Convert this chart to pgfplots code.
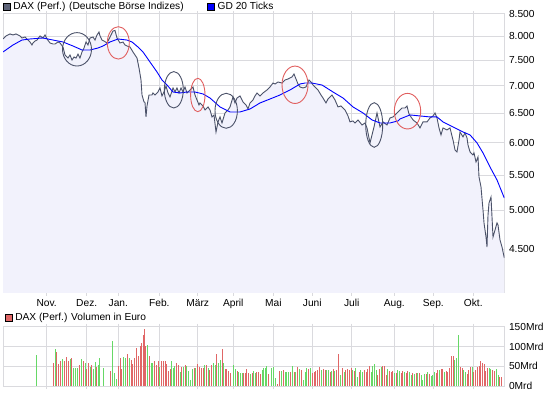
\documentclass[border=0pt]{standalone}
\usepackage{fontspec}
\setmainfont{Liberation Sans}
\usepackage{pgfplots}
\usepackage{pgfplotstable}
\pgfplotsset{compat=1.18}
\definecolor{slate}{RGB}{75,82,105}
\definecolor{fillc}{RGB}{242,242,252}
\definecolor{gridc}{RGB}{218,218,222}
\definecolor{ered}{RGB}{225,95,95}
\definecolor{vred}{RGB}{224,102,102}
\definecolor{vgreen}{RGB}{102,216,102}
\definecolor{gdblue}{RGB}{0,0,255}

\pgfplotstableread{
x y
3 7945
6 8010
8 8031
10 8053
13 8031
16 8053
18 8031
20 8010
22 7966
25 7988
27 7945
30 7881
32 7817
33 7860
35 7902
37 7923
40 8010
43 7966
45 8031
47 7945
50 7860
53 7838
55 7838
58 7881
60 7860
63 7775
65 7609
68 7547
70 7609
72 7507
74 7568
76 7547
78 7629
80 7547
82 7671
84 7754
86 7881
88 7817
90 7966
93 7988
95 7923
97 8031
99 8096
100 8010
102 7923
104 7902
107 7860
110 7988
113 8118
115 8129
117 7966
120 7860
123 7881
125 7817
127 7796
130 7775
133 7671
135 7609
137 7547
139 7346
141 7112
142 6829
144 6702
145 6693
146 6436
147 6630
149 6829
152 6829
153 6866
155 6829
156 6848
158 6885
160 6960
162 6811
164 6885
166 6997
168 6866
170 6793
173 6960
175 6885
177 6960
179 6866
181 6960
183 6885
185 6979
187 6866
190 6922
193 6979
195 6829
197 6738
199 6648
200 6684
203 6630
205 6558
208 6612
210 6558
212 6436
214 6471
216 6180
218 6350
220 6436
222 6332
225 6506
228 6558
230 6612
233 6793
235 6684
237 6774
240 6811
243 6702
246 6648
248 6576
250 6684
253 6738
255 6811
257 6866
260 6811
263 6866
267 6922
270 6979
273 7054
275 7035
278 7073
282 7054
285 7112
288 7131
292 7170
294 7228
296 7131
298 7035
300 6979
303 6960
306 6979
309 7112
311 7073
313 7016
316 6960
318 6922
321 6829
323 6774
326 6684
328 6756
332 6829
335 6738
338 6612
341 6630
345 6558
348 6453
350 6350
353 6367
355 6332
358 6384
362 6298
365 6332
367 6248
370 6000
372 6131
374 6264
377 6506
380 6264
383 6350
387 6298
390 6418
393 6436
396 6488
398 6523
402 6594
405 6594
407 6630
409 6488
413 6384
417 6332
420 6248
423 6350
427 6350
430 6418
433 6453
435 6506
437 6418
439 6248
441 6131
443 6248
447 6214
450 6248
453 6048
455 5887
457 5856
459 6048
460 6180
463 6098
465 6164
467 6081
468 5967
470 5856
473 5808
474 5840
476 5699
478 5777
479 5472
481 5327
483 5005
484 4833
486 4653
487 4529
488 4938
489 5101
491 5184
492 4912
493 4653
495 4742
497 4833
498 4807
500 4616
502 4529
504.3 4397
}\pricetable

\pgfplotstableread{
x y
3 7671
13 7817
22 7923
30 7945
43 7966
53 7923
63 7881
73 7796
82 7712
90 7712
98 7754
103 7796
110 7881
118 7945
127 7923
132 7881
138 7775
143 7671
150 7466
157 7267
162 7112
167 7016
173 6885
180 6866
187 6885
195 6885
203 6848
210 6774
220 6612
230 6523
240 6523
250 6576
260 6684
270 6756
280 6829
290 6922
300 7035
305 7054
312 7054
322 7016
333 6885
343 6774
353 6612
363 6506
372 6384
380 6332
390 6332
398 6367
400 6401
410 6471
420 6453
430 6436
437 6436
443 6350
453 6264
463 6180
470 6131
477 6000
483 5839
490 5622
497 5428
504.3 5170
}\matable

\pgfplotstableread{
x y
53.3 59
56.7 87
58.3 56
60.3 64
64.0 62
66.0 73
68.0 64
71.3 70
79.3 53
83.3 62
86.7 43
88.3 59
91.7 53
96.7 49
110.0 39
118.3 51
120.0 70
121.7 42
127.0 81
131.0 66
132.7 56
134.7 70
136.0 96
138.0 75
140.0 100
141.7 108
143.3 130
144.3 144
145.7 100
149.0 75
154.3 64
156.3 53
158.0 62
161.7 64
163.3 62
165.3 62
166.7 55
168.3 39
170.0 42
176.7 58
178.7 53
181.7 49
185.0 53
194.0 45
197.7 55
199.3 49
201.3 45
203.0 45
206.3 53
209.7 41
211.3 53
216.7 80
222.0 93
225.0 43
226.7 43
228.7 39
230.7 34
237.0 39
243.7 32
245.3 32
246.7 42
248.3 32
252.0 32
256.7 36
258.7 36
260.3 30
268.7 30
277.3 5
279.3 39
283.3 41
290.7 36
294.0 36
297.3 49
301.0 41
308.7 42
312.3 32
314.0 36
315.7 39
317.3 41
319.0 49
323.3 43
325.0 41
330.0 36
333.3 42
336.0 41
338.0 81
342.0 45
345.7 41
347.3 43
349.0 41
351.0 45
354.0 39
359.0 36
364.0 41
366.0 36
367.7 42
369.3 51
377.7 28
379.3 42
382.7 51
384.3 51
386.0 28
389.3 39
391.0 36
392.7 39
396.0 32
401.0 34
402.7 39
406.0 34
407.7 39
412.7 32
416.0 32
419.3 34
426.0 30
429.3 30
436.0 34
437.7 41
441.0 42
442.7 42
446.0 39
447.7 36
449.3 45
451.0 75
453.0 76
460.3 49
462.0 45
467.0 30
468.7 41
470.3 47
473.7 36
475.3 41
477.0 49
479.0 51
480.7 64
482.3 59
484.0 56
485.7 39
487.3 45
492.3 41
494.0 39
499.7 24
501.3 24
}\volred

\pgfplotstableread{
x y
36.0 79
55.0 94
62.3 69
70.0 68
73.3 46
75.3 46
77.3 46
81.3 68
85.0 59
90.0 49
93.3 42
95.0 61
98.0 53
99.7 70
103.3 45
112.3 113
114.3 34
116.0 18
123.7 73
125.3 70
129.0 70
147.0 104
151.0 58
152.7 59
159.7 47
171.3 64
173.0 45
174.7 51
180.0 36
183.3 49
186.7 51
188.3 39
190.0 14
192.3 43
195.7 45
204.7 53
208.0 45
213.3 58
215.0 53
218.0 59
220.0 66
223.3 58
233.3 53
235.0 42
238.7 36
240.3 34
242.0 34
250.0 30
253.7 38
255.0 34
262.0 41
263.7 45
265.3 45
266.7 51
271.7 45
273.3 47
275.3 19
281.3 39
285.0 36
286.7 36
288.7 36
292.3 51
295.7 36
299.3 43
303.3 15
305.0 36
306.7 45
310.3 45
321.7 41
326.7 41
328.3 41
331.7 39
334.7 39
340.0 28
344.0 36
352.7 41
355.7 45
357.3 22
360.7 41
362.3 36
371.0 36
372.7 51
374.3 56
376.0 41
381.0 49
387.7 42
394.3 32
397.7 41
399.3 39
404.3 36
409.3 36
411.0 28
414.3 30
417.7 34
421.0 28
422.7 15
424.3 30
427.7 36
431.0 25
432.7 28
434.3 36
439.3 41
444.3 36
454.7 66
456.3 72
458.7 128
463.7 41
465.3 36
472.0 49
489.0 45
490.7 42
496.0 42
498.0 28
}\volgreen

\begin{document}
\begin{tikzpicture}[x=1pt,y=1pt,font=\fontsize{10.2}{12}\selectfont]
\useasboundingbox (0,0) rectangle (545,397);
\pgfplotsset{
  common/.style={
    scale only axis, width=501.3pt,
    xmin=3, xmax=504.3,
    axis line style={gridc, line width=1pt},
    grid=major,
    major grid style={gridc, line width=1pt},
    xtick={46.7,86.7,118.3,159.3,197.7,233.3,273.3,312.3,351.7,394.3,433.3,473.3},
    xtick style={gridc, line width=1pt},
    ytick style={draw=none},
    tick align=outside,
    major tick length=3pt,
    yticklabel pos=right,
    yticklabel style={anchor=west, inner sep=0pt, xshift=1.5pt, font=\fontsize{10.2}{12}\selectfont},
    xticklabel style={inner sep=0pt, anchor=north, yshift=-3pt, font=\fontsize{10.2}{12}\selectfont},
    legend style={draw=none, fill=none, inner sep=0pt, outer sep=0pt,
      font=\fontsize{10.2}{12}\selectfont,
      nodes={inner sep=0.6pt},
      /tikz/every odd column/.append style={column sep=2.5pt},
      /tikz/every even column/.append style={column sep=23pt}},
    legend cell align=left,
  }
}
\begin{axis}[common, at={(3pt,104pt)}, anchor=south west, height=279pt,
  ymode=log, ymin=4000, ymax=8500,
  ytick={4500,5000,5500,6000,6500,7000,7500,8000,8500},
  yticklabels={4.500,5.000,5.500,6.000,6.500,7.000,7.500,8.000,8.500},
  xticklabels={Nov.,Dez.,Jan.,Feb.,März,April,Mai,Juni,Juli,Aug.,Sep.,Okt.},
  legend columns=2,
  legend style={at={(0,1)}, anchor=west, yshift=7pt},
]
\addplot[forget plot, draw=none, fill=fillc] table {\pricetable} \closedcycle;
\addplot[slate, line width=0.9pt,
  legend image code/.code={\draw[fill=slate!90!white, draw=black, line width=0.6pt] (0pt,-3.2pt) rectangle (6.6pt,3.4pt);}]
  table {\pricetable};
\addlegendentry{DAX (Perf.) (Deutsche Börse Indizes)}
\addplot[gdblue, line width=0.9pt,
  legend image code/.code={\draw[fill=gdblue, draw=black, line width=0.6pt] (0pt,-3.2pt) rectangle (6.6pt,3.4pt);}]
  table {\matable};
\addlegendentry{GD 20 Ticks}
% ellipses
\addplot[forget plot, only marks, mark=o, mark size=1pt, slate, mark options={xscale=14.5, yscale=16.7, line width=0.9pt}] coordinates {(77,7727)};
\addplot[forget plot, only marks, mark=o, mark size=1pt, ered, mark options={xscale=11, yscale=16.2, line width=0.9pt}] coordinates {(118.3,7862)};
\addplot[forget plot, only marks, mark=o, mark size=1pt, slate, mark options={xscale=9.5, yscale=18.2, line width=0.9pt}] coordinates {(173.8,6926)};
\addplot[forget plot, only marks, mark=o, mark size=1pt, ered, mark options={xscale=7.2, yscale=16.7, line width=0.9pt}] coordinates {(197.8,6829)};
\addplot[forget plot, only marks, mark=o, mark size=1pt, slate, mark options={xscale=11.2, yscale=17.5, line width=0.9pt}] coordinates {(226.2,6544)};
\addplot[forget plot, only marks, mark=o, mark size=1pt, ered, mark options={xscale=13, yscale=18.7, line width=0.9pt}] coordinates {(295,7020)};
\addplot[forget plot, only marks, mark=o, mark size=1pt, slate, mark options={xscale=8.5, yscale=22.3, line width=0.9pt}] coordinates {(374.2,6298)};
\addplot[forget plot, only marks, mark=o, mark size=1pt, ered, mark options={xscale=13.2, yscale=17.8, line width=0.9pt}] coordinates {(407.5,6537)};
\end{axis}

\begin{axis}[common, at={(3pt,11pt)}, anchor=south west, height=59.3pt,
  ymin=0, ymax=150,
  ytick={0,50,100,150},
  yticklabels={0Mrd,50Mrd,100Mrd,150Mrd},
  xticklabels={},
  legend columns=1,
  legend style={at={(0,1)}, anchor=west, xshift=2pt, yshift=8.7pt},
]
\addplot[ycomb, vred, line width=1pt, mark=none,
  legend image code/.code={\draw[fill=vred, draw=black, line width=0.6pt] (0pt,-3.2pt) rectangle (6.6pt,3.4pt);}]
  table {\volred};
\addlegendentry{DAX (Perf.) Volumen in Euro}
\addplot[forget plot, ycomb, vgreen, line width=1pt, mark=none] table {\volgreen};
\end{axis}
\end{tikzpicture}
\end{document}
